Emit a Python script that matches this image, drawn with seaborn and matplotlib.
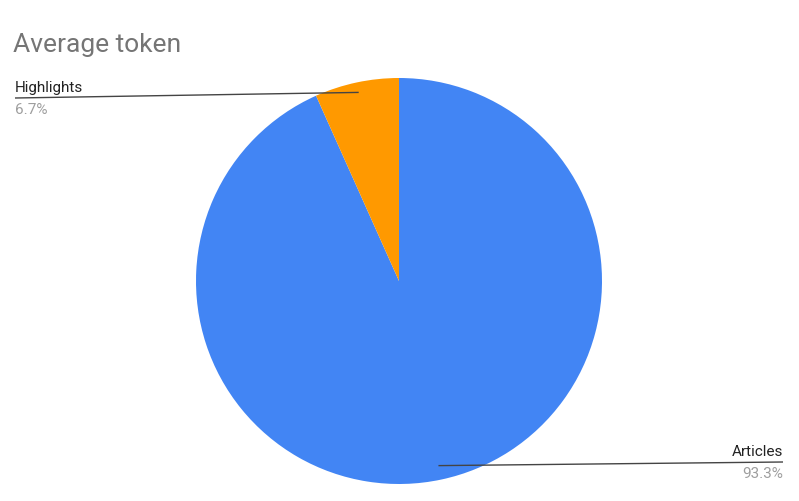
import numpy as np
import matplotlib
matplotlib.use("Agg")
import matplotlib.pyplot as plt
import seaborn as sns

categories = ["Articles", "Highlights"]
values = [93.3, 6.7]
pct_labels = ["93.3%", "6.7%"]
title = "Average token"

sns.set_theme(style="white")
plt.rcParams['font.family'] = ['Roboto', 'DejaVu Sans']
colors = sns.color_palette(["#4285f4", "#ff9900"])

W, H = 799, 502
fig = plt.figure(figsize=(W / 100, H / 100), dpi=100)
ax = fig.add_axes([0, 0, 1, 1])

cx, cy, R = 399, H - 282, 203
wedges, _ = ax.pie(values, colors=colors, startangle=90, counterclock=False,
                   center=(cx, cy), radius=R, frame=True,
                   wedgeprops=dict(linewidth=0))
ax.set_xlim(0, W)
ax.set_ylim(0, H)
ax.set_aspect("auto")
ax.axis("off")

fig.text(13 / W, 1 - 45 / H, title, fontsize=19, color="#757575", va="center", ha="left")

# label layout: (text x, line y, ha, radius fraction)
layout = {
    "Highlights": (15, H - 99, "left", 0.95),
    "Articles": (783, H - 463, "right", 0.93),
}
for w, cat, pct in zip(wedges, categories, pct_labels):
    ang = np.deg2rad((w.theta1 + w.theta2) / 2)
    tx, ly, ha, rf = layout[cat]
    px, py = cx + rf * R * np.cos(ang), cy + rf * R * np.sin(ang)
    ax.plot([px, tx], [py, ly], color="#444444", lw=1.0, solid_capstyle="butt")
    ax.text(tx, ly + 4, cat, ha=ha, va="bottom", fontsize=11, color="#222222")
    ax.text(tx, ly - 4, pct, ha=ha, va="top", fontsize=11, color="#9e9e9e")

fig.savefig("out.png", dpi=100, facecolor="white")
